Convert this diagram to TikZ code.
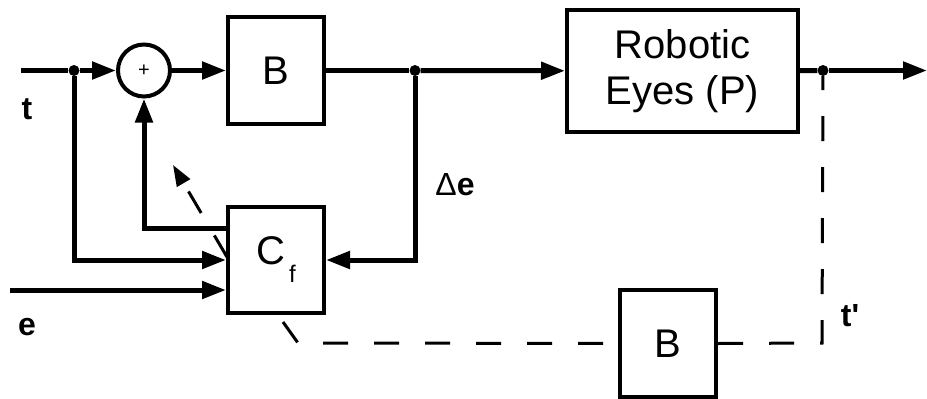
\documentclass[tikz,border=0pt]{standalone}
\usepackage{fontspec}
\setmainfont{Liberation Sans}[Ligatures=TeXOff]
\usetikzlibrary{arrows.meta}
\begin{document}
\begin{tikzpicture}[x=1pt,y=-1pt,
  blk/.style={draw,line width=4pt,inner sep=0pt,font=\fontsize{40}{46}\selectfont},
  sig/.style={line width=5pt},
  arr/.style={sig,-{Triangle[length=24pt,width=17pt]}},
  dsh/.style={line width=3pt,dash pattern=on 25pt off 26pt},
  lbl/.style={font=\fontsize{32}{38}\selectfont\bfseries},
  dot/.style={circle,fill,inner sep=0pt,minimum size=11pt}]
\useasboundingbox (0,0) rectangle (927,399);
% blocks
\node[blk,circle,minimum size=52pt,font=\fontsize{20}{22}\selectfont] (sum) at (144,70.5) {+};
\node[blk,minimum width=96pt,minimum height=107pt] (B1) at (276,70.5) {B};
\node[blk,minimum width=231pt,minimum height=122pt,align=center,font=\fontsize{40}{46}\selectfont] (P) at (682.5,71) {Robotic\\Eyes (P)};
\node[blk,minimum width=96pt,minimum height=106pt] (Cf) at (276,260) {C\raisebox{-0.45em}{\fontsize{24}{28}\selectfont\,f}};
\node[blk,minimum width=96pt,minimum height=107pt] (B2) at (668,343.5) {B};
% junctions
\node[dot] (j1) at (74,70.5) {};
\node[dot] (j2) at (415,70.5) {};
\node[dot] (j3) at (823,70.5) {};
\coordinate (tin) at (21,70.5);
\coordinate (ein) at (10,290);
\coordinate (out) at (927,70.5);
% signal lines
\draw[sig] (tin) -- (j1);
\draw[arr] (j1) -- (sum);
\draw[arr] (sum) -- (B1);
\draw[sig] (B1) -- (j2);
\draw[arr] (j2) -- (P);
\draw[sig] (P) -- (j3);
\draw[arr] (j3) -- (out);
\draw[arr] (j1) |- (Cf.west);
\draw[arr] (ein) -- (ein -| Cf.west);
\draw[arr] (j2) |- (Cf.east);
\draw[arr,line cap=round] (Cf.west |- 0,228) -| (sum.south);
% dashed feedback
\coordinate (dA) at (227,257);
\coordinate (dB) at (173,165);
\draw[dsh,-{Triangle[length=21pt,width=15pt]}] (dA) -- (dB);
\coordinate (c1) at (283,322);
\coordinate (c2) at (298,343);
\draw[dsh] (c1) -- (c2) -- (B2.west);
\draw[dsh] (B2.east) -- (822,343) -- (j3);
% labels
\node[lbl] (lt) at (27,109) {t};
\node[lbl] (le) at (27,327) {e};
\node[lbl] (lde) at (455,185) {{\mdseries Δ}e};
\node[lbl] (ltp) at (850,316) {t'};
\end{tikzpicture}
\end{document}
